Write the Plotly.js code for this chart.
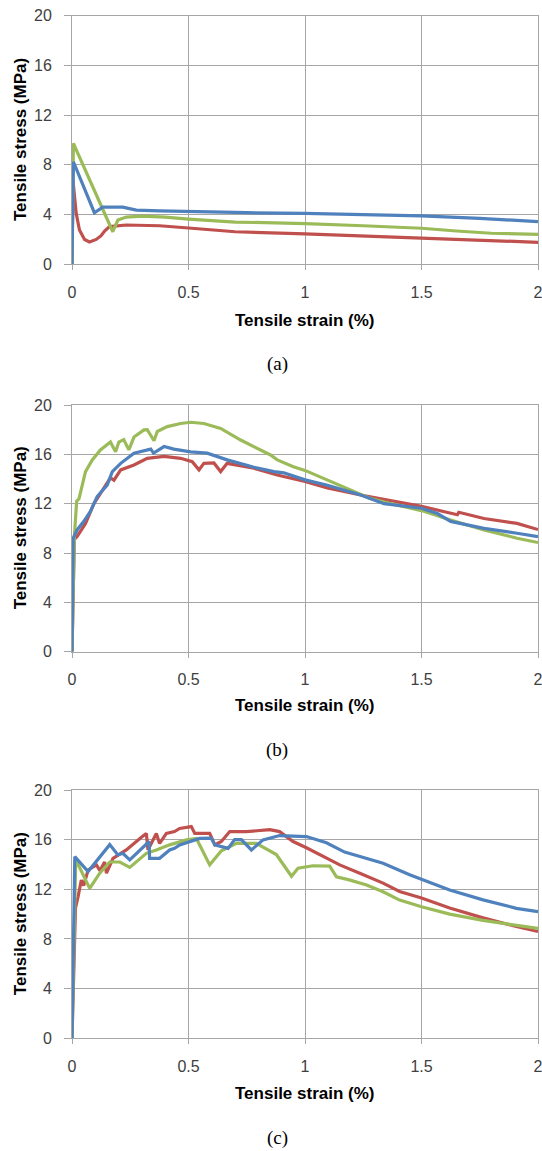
<!DOCTYPE html>
<html>
<head>
<meta charset="utf-8">
<script src="https://cdn.plot.ly/plotly-3.0.1.min.js"></script>
<style>html,body{margin:0;padding:0;background:#fff;}#chart{width:542px;height:1151px;}</style>
</head>
<body>
<div id="chart"></div>
<script>
// ---- data (strain %, stress MPa) ----
const aBlueX = [0, 0.006, 0.096, 0.132, 0.218, 0.276, 0.376, 0.5, 0.75, 1.0, 1.25, 1.5, 1.75, 2.0];
const aBlueY = [0, 8.25, 4.15, 4.6, 4.6, 4.36, 4.3, 4.23, 4.15, 4.1, 4.02, 3.89, 3.7, 3.43];
const aGreenX = [0, 0.006, 0.175, 0.197, 0.233, 0.3, 0.4, 0.5, 0.7, 1.0, 1.25, 1.5, 1.65, 1.8, 2.0];
const aGreenY = [0, 9.73, 2.62, 3.56, 3.8, 3.88, 3.8, 3.64, 3.4, 3.28, 3.1, 2.9, 2.68, 2.5, 2.41];
const aRedX = [0, 0.004, 0.018, 0.032, 0.054, 0.075, 0.104, 0.125, 0.14, 0.161, 0.233, 0.376, 0.5, 0.7, 1.0, 1.25, 1.5, 1.75, 2.0];
const aRedY = [0, 6.8, 4.1, 2.76, 2.0, 1.8, 2.0, 2.3, 2.68, 3.03, 3.16, 3.1, 2.92, 2.62, 2.45, 2.28, 2.06, 1.9, 1.77];

const bGreenX = [0, 0.005, 0.01, 0.02, 0.03, 0.058, 0.087, 0.122, 0.151, 0.165, 0.187, 0.201, 0.222, 0.244, 0.266, 0.309, 0.323, 0.352, 0.366, 0.409, 0.466, 0.509, 0.566, 0.638, 0.724, 0.81, 0.852, 0.881, 0.95, 1.0, 1.096, 1.196, 1.28, 1.368, 1.5, 1.625, 1.768, 1.91, 2.0];
const bGreenY = [0, 6.5, 9.3, 12.2, 12.4, 14.6, 15.55, 16.36, 16.76, 17.0, 16.2, 17.0, 17.2, 16.36, 17.4, 17.98, 18.0, 17.1, 17.85, 18.25, 18.5, 18.6, 18.5, 18.1, 17.16, 16.36, 15.95, 15.55, 15.0, 14.7, 13.93, 13.1, 12.43, 12.0, 11.44, 10.68, 9.87, 9.2, 8.85];
const bBlueX = [0, 0.005, 0.022, 0.05, 0.079, 0.108, 0.151, 0.173, 0.209, 0.266, 0.338, 0.35, 0.395, 0.437, 0.509, 0.58, 0.666, 0.781, 0.867, 0.909, 1.0, 1.096, 1.239, 1.339, 1.5, 1.568, 1.625, 1.768, 1.91, 2.0];
const bBlueY = [0, 9.2, 9.87, 10.55, 11.37, 12.58, 13.5, 14.6, 15.27, 16.1, 16.42, 16.1, 16.63, 16.42, 16.2, 16.1, 15.55, 14.95, 14.6, 14.5, 13.93, 13.5, 12.7, 12.0, 11.63, 11.2, 10.56, 10.0, 9.6, 9.33];
const bRedX = [0, 0.01, 0.022, 0.058, 0.094, 0.137, 0.165, 0.18, 0.209, 0.266, 0.323, 0.395, 0.466, 0.516, 0.545, 0.566, 0.609, 0.638, 0.666, 0.781, 0.881, 1.0, 1.096, 1.239, 1.5, 1.654, 1.66, 1.768, 1.91, 2.0];
const bRedY = [0, 9.1, 9.33, 10.4, 12.0, 13.3, 14.1, 13.9, 14.74, 15.14, 15.68, 15.84, 15.68, 15.4, 14.74, 15.27, 15.3, 14.6, 15.27, 14.87, 14.33, 13.8, 13.27, 12.7, 11.78, 11.1, 11.3, 10.8, 10.4, 9.9];

const cGreenX = [0, 0.016, 0.076, 0.119, 0.162, 0.205, 0.248, 0.276, 0.319, 0.362, 0.419, 0.491, 0.534, 0.591, 0.641, 0.706, 0.791, 0.877, 0.942, 0.97, 1.034, 1.106, 1.135, 1.19, 1.264, 1.335, 1.406, 1.5, 1.621, 1.764, 1.907, 2.0];
const cGreenY = [0, 14.4, 12.08, 13.3, 14.2, 14.2, 13.77, 14.2, 14.9, 15.17, 15.58, 15.98, 16.1, 13.97, 15.1, 15.7, 15.7, 14.8, 13.05, 13.7, 13.9, 13.87, 13.0, 12.76, 12.35, 11.8, 11.13, 10.6, 10.0, 9.5, 9.1, 8.85];
const cRedX = [0, 0.015, 0.026, 0.04, 0.05, 0.069, 0.105, 0.12, 0.14, 0.148, 0.176, 0.233, 0.298, 0.319, 0.326, 0.362, 0.376, 0.405, 0.44, 0.462, 0.512, 0.527, 0.591, 0.613, 0.641, 0.677, 0.748, 0.849, 0.891, 0.949, 1.006, 1.149, 1.235, 1.335, 1.406, 1.5, 1.621, 1.764, 1.907, 2.0];
const cRedY = [0, 10.5, 11.4, 12.75, 12.3, 13.56, 13.97, 13.5, 14.2, 13.3, 14.5, 15.17, 16.2, 16.5, 15.17, 16.5, 15.7, 16.5, 16.65, 16.9, 17.05, 16.5, 16.5, 15.58, 15.85, 16.65, 16.65, 16.8, 16.65, 15.85, 15.35, 13.97, 13.3, 12.5, 11.83, 11.3, 10.5, 9.7, 9.0, 8.6];
const cBlueX = [0, 0.012, 0.069, 0.162, 0.197, 0.218, 0.248, 0.298, 0.331, 0.333, 0.376, 0.419, 0.44, 0.462, 0.548, 0.598, 0.613, 0.67, 0.698, 0.727, 0.77, 0.82, 0.891, 1.006, 1.092, 1.17, 1.235, 1.335, 1.449, 1.5, 1.621, 1.764, 1.907, 2.0];
const cBlueY = [0, 14.63, 13.43, 15.6, 14.77, 14.9, 14.37, 15.3, 15.85, 14.5, 14.5, 15.17, 15.3, 15.58, 16.1, 16.12, 15.58, 15.3, 16.0, 16.0, 15.17, 15.98, 16.33, 16.25, 15.75, 15.0, 14.64, 14.1, 13.18, 12.8, 11.95, 11.15, 10.47, 10.2];

const xTitle = 'Tensile strain (%)';
const yTitle = 'Tensile stress (MPa)';
const captions = ['(a)', '(b)', '(c)'];

// ---- styles ----
const RED = '#C0504D', GREEN = '#9BBB59', BLUE = '#4F81BD';
const H = 1151, W = 542, ML = 72, MR = 4;
const py = p => 1 - p / H;
const pxx = p => (p - ML) / (W - ML - MR);

function tr(x, y, c, n) {
  return {x: x, y: y, type: 'scatter', mode: 'lines', line: {color: c, width: 3.2}, xaxis: 'x' + (n === 1 ? '' : n), yaxis: 'y' + (n === 1 ? '' : n), hoverinfo: 'skip', showlegend: false};
}
const data = [
  tr(aRedX, aRedY, RED, 1), tr(aGreenX, aGreenY, GREEN, 1), tr(aBlueX, aBlueY, BLUE, 1),
  tr(bRedX, bRedY, RED, 2), tr(bGreenX, bGreenY, GREEN, 2), tr(bBlueX, bBlueY, BLUE, 2),
  tr(cRedX, cRedY, RED, 3), tr(cGreenX, cGreenY, GREEN, 3), tr(cBlueX, cBlueY, BLUE, 3)
];

const gridC = '#a6a6a6';
const tickFont = {family: 'Liberation Sans, Arial, sans-serif', size: 16, color: '#404040'};
function xa(anchor) {
  return {domain: [0, 1], anchor: anchor, range: [0, 2], dtick: 0.5, tick0: 0, showgrid: true, gridcolor: gridC, gridwidth: 1,
    showline: true, mirror: true, linecolor: gridC, linewidth: 1, ticks: 'outside', ticklen: 5, tickcolor: gridC,
    zeroline: false, tickfont: tickFont, ticklabelstandoff: 8, ticklabeloverflow: 'allow', fixedrange: true};
}
function ya(anchor, top, bot) {
  return {domain: [py(bot), py(top)], anchor: anchor, range: [0, 20], dtick: 4, tick0: 0, showgrid: true, gridcolor: gridC, gridwidth: 1,
    showline: true, mirror: true, linecolor: gridC, linewidth: 1, ticks: 'outside', ticklen: 7, tickcolor: gridC,
    zeroline: false, tickfont: tickFont, ticklabelstandoff: 9, ticklabeloverflow: 'allow', fixedrange: true};
}
const panels = [
  {top: 15.7, bot: 264.3, xt: 320, cap: 364.5},
  {top: 405, bot: 651.7, xt: 705, cap: 749.5},
  {top: 790, bot: 1038.3, xt: 1093, cap: 1138}
];
const titleFont = {family: 'Liberation Sans, Arial, sans-serif', size: 17, color: '#000'};
const capFont = {family: 'Liberation Serif, Times New Roman, serif', size: 19, color: '#000'};
const annotations = [];
panels.forEach((p, i) => {
  annotations.push({xref: 'paper', yref: 'paper', x: pxx(305), y: py(p.xt), text: '<b>' + xTitle + '</b>', showarrow: false, xanchor: 'center', yanchor: 'middle', font: titleFont});
  annotations.push({xref: 'paper', yref: 'paper', x: pxx(20), y: py((p.top + p.bot) / 2), text: '<b>' + yTitle + '</b>', textangle: -90, showarrow: false, xanchor: 'center', yanchor: 'middle', font: titleFont});
  annotations.push({xref: 'paper', yref: 'paper', x: pxx(277), y: py(p.cap), text: captions[i], showarrow: false, xanchor: 'center', yanchor: 'middle', font: capFont});
});

const layout = {
  width: W, height: H, margin: {l: ML, r: MR, t: 0, b: 0}, paper_bgcolor: '#fff', plot_bgcolor: '#fff', showlegend: false,
  xaxis: xa('y'), xaxis2: xa('y2'), xaxis3: xa('y3'),
  yaxis: ya('x', panels[0].top, panels[0].bot), yaxis2: ya('x2', panels[1].top, panels[1].bot), yaxis3: ya('x3', panels[2].top, panels[2].bot),
  annotations: annotations
};
Plotly.newPlot('chart', data, layout, {staticPlot: true, displayModeBar: false});
</script>
</body>
</html>
